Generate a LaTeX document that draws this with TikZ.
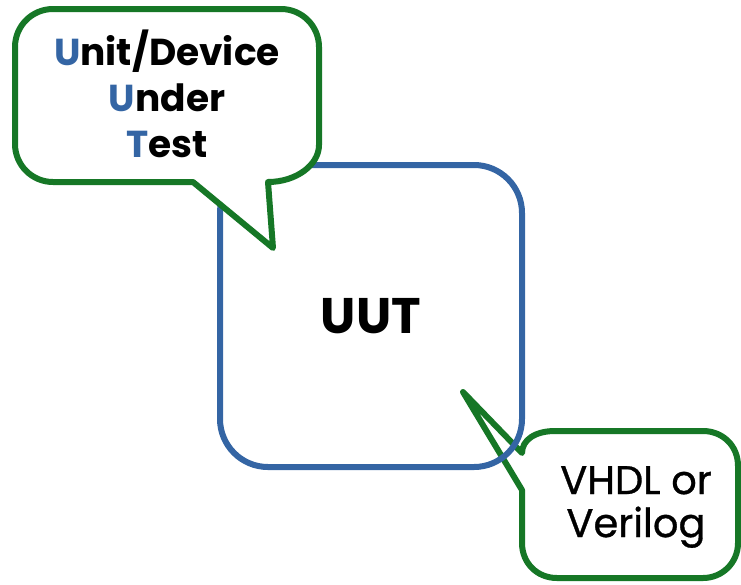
\documentclass[tikz,border=0pt]{standalone}
\usepackage{fontspec}
\setmainfont{Poppins}
\newfontfamily\talkfont[FakeBold=0.8]{Poppins}
\usetikzlibrary{positioning}
\definecolor{uutblue}{RGB}{52,101,164}
\definecolor{calloutgreen}{RGB}{22,119,38}

\begin{document}
\begin{tikzpicture}[x=1pt, y=-1pt,
    uutbox/.style={rectangle, draw=uutblue, line width=6pt, rounded corners=48pt, minimum width=302pt, minimum height=302pt, font=\fontsize{50}{60}\selectfont\bfseries},
    talkbox/.style={draw=calloutgreen, line width=6pt, fill=white, line join=round},
    talktext/.style={align=center, inner sep=0pt}]
    \useasboundingbox (0,0) rectangle (741,584);

    % Language callout
    \draw[talkbox] (522,453) .. controls (522,440) and (535,431) .. (555,431) -- (703,431)
        .. controls (722,431) and (738,445) .. (738,466) -- (738,543)
        .. controls (738,563) and (722,578) .. (703,578) -- (557,578)
        .. controls (537,578) and (522,563) .. (522,543) -- (522,490) -- (463,392) -- cycle;

    % Unit under test
    \node[uutbox] (uut) at (371,316) {UUT};

    % Name callout
    \draw[talkbox] (53,9) -- (281,9) .. controls (302,9) and (319,26) .. (319,47) -- (319,145)
        .. controls (319,165) and (296,182) .. (268,182) -- (273,248) -- (193,182) -- (53,182)
        .. controls (32,182) and (15,165) .. (15,144) -- (15,47)
        .. controls (15,26) and (32,9) .. (53,9) -- cycle;

    \node[talktext, font=\fontsize{37.5}{46}\selectfont\bfseries] (name) at (167,94)
        {{\color{uutblue}U}nit/Device\\{\color{uutblue}U}nder\\{\color{uutblue}T}est};
    \node[talktext, font=\fontsize{40}{43}\talkfont] (lang) at (636,507) {VHDL or\\Verilog};
\end{tikzpicture}
\end{document}
